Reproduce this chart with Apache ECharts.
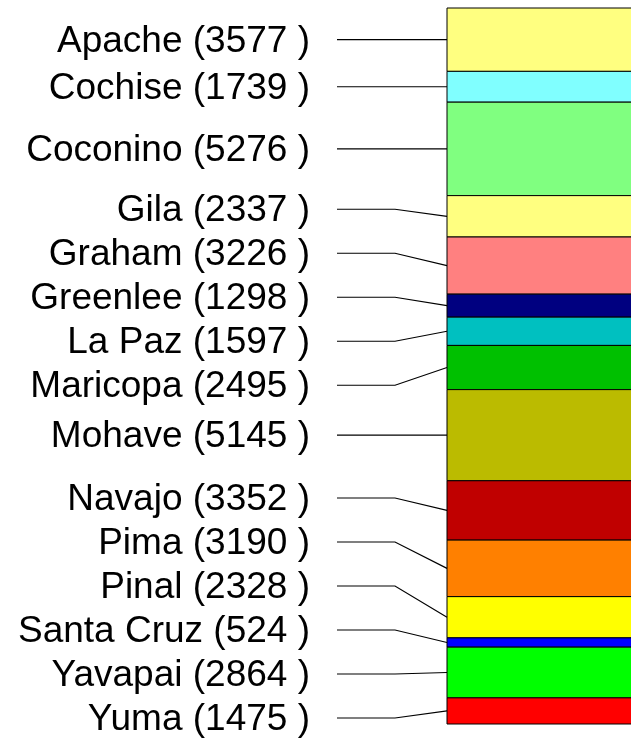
<!DOCTYPE html>
<html>
<head>
<meta charset="utf-8">
<script src="https://cdn.jsdelivr.net/npm/echarts@6/dist/echarts.min.js"></script>
<style>
  html, body { margin: 0; padding: 0; background: #fff; overflow: hidden; }
  #chart { width: 631px; height: 738px; }
</style>
</head>
<body>
<div id="chart"></div>
<script>
const counties = ['Apache', 'Cochise', 'Coconino', 'Gila', 'Graham', 'Greenlee', 'La Paz', 'Maricopa', 'Mohave', 'Navajo', 'Pima', 'Pinal', 'Santa Cruz', 'Yavapai', 'Yuma'];
const values = [3577, 1739, 5276, 2337, 3226, 1298, 1597, 2495, 5145, 3352, 3190, 2328, 524, 2864, 1475];
const colors = ['#ffff80', '#80ffff', '#80ff80', '#ffff80', '#ff8080', '#000080', '#00c0c0', '#00c000', '#bbbb00', '#c00000', '#ff8000', '#ffff00', '#0000ff', '#00ff00', '#ff0000'];

const total = values.reduce((a, b) => a + b, 0);
const starts = [], mids = [];
let acc = 0;
values.forEach(v => { starts.push(acc); mids.push(acc + v / 2); acc += v; });

const GAP = 44, TOP_BOUND = 22, BOTTOM_MARGIN = 20;
const TEXT_OFF = 137, LINE_START_OFF = 110, KNEE_OFF = 52, BAR_EXTENT = 400;

function spread(desired, gap, lo, hi) {
  const clusters = [];
  desired.forEach((d, i) => {
    clusters.push({ start: i, n: 1, sumAdj: d, pos: Math.min(Math.max(d, lo), hi) });
    while (clusters.length > 1) {
      const b = clusters[clusters.length - 1], a = clusters[clusters.length - 2];
      if (a.pos + a.n * gap > b.pos) {
        const n = a.n + b.n;
        const sumAdj = a.sumAdj + b.sumAdj - b.n * a.n * gap;
        const pos = Math.min(Math.max(sumAdj / n, lo), hi - (n - 1) * gap);
        clusters.splice(clusters.length - 2, 2, { start: a.start, n, sumAdj, pos });
      } else break;
    }
  });
  const out = [];
  clusters.forEach(c => { for (let k = 0; k < c.n; k++) out[c.start + k] = c.pos + k * gap; });
  return out;
}

const chart = echarts.init(document.getElementById('chart'));

// stacked segments: [category, start, end, index]
const segmentSeries = {
  type: 'custom', silent: true, clip: false,
  encode: { x: 0, y: [1, 2] },
  data: values.map((v, i) => [0, starts[i], starts[i] + v, i]),
  renderItem: function (params, api) {
    const i = api.value(3);
    const bw = api.size([1, 0])[0];
    const left = api.coord([0, 0])[0] - bw / 2;
    const y0 = api.coord([0, api.value(1)])[1];
    const y1 = api.coord([0, api.value(2)])[1];
    return {
      type: 'rect',
      shape: { x: left, y: y0, width: BAR_EXTENT, height: y1 - y0 },
      style: { fill: colors[i], stroke: '#000', lineWidth: 1 }
    };
  }
};

const labelSeries = {
  type: 'custom', silent: true, clip: false,
  encode: { x: 0, y: 1 },
  data: values.map((v, i) => [0, mids[i], i]),
  renderItem: function (params, api) {
    const i = api.value(2);
    const ys = mids.map(m => api.coord([0, m])[1]);
    const bw = api.size([1, 0])[0];
    const barLeft = api.coord([0, 0])[0] - bw / 2;
    const H = api.getHeight();
    const ly = spread(ys, GAP, TOP_BOUND, H - BOTTOM_MARGIN);
    const y = ly[i];
    return {
      type: 'group',
      children: [
        { type: 'text', style: { text: counties[i] + ' (' + values[i] + ' )', x: barLeft - TEXT_OFF, y: y + 2,
            align: 'right', verticalAlign: 'middle', fontSize: 37, fontFamily: '"Liberation Sans", Arial, sans-serif', fill: '#000' } },
        { type: 'polyline', shape: { points: [[barLeft - LINE_START_OFF, y], [barLeft - KNEE_OFF, y], [barLeft, ys[i]]] },
          style: { stroke: '#000', lineWidth: 1.2, fill: null } }
      ]
    };
  }
};

chart.setOption({
  animation: false,
  grid: { left: 447, right: 0, top: 8, bottom: 14 },
  xAxis: { type: 'category', data: [''], show: false },
  yAxis: { type: 'value', inverse: true, min: 0, max: total, show: false },
  series: [segmentSeries, labelSeries]
});
</script>
</body>
</html>
